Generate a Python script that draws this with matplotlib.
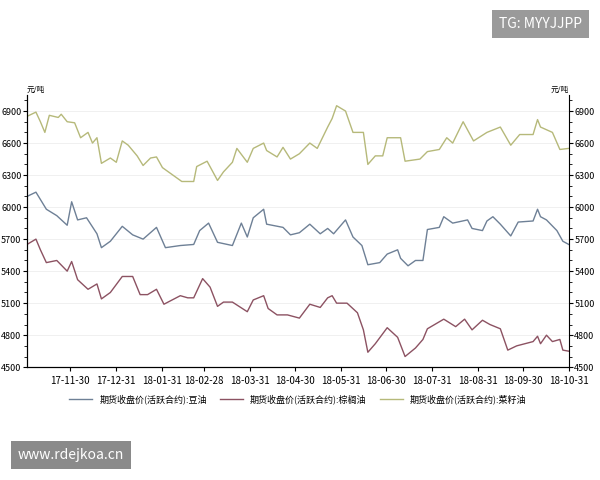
import matplotlib
matplotlib.use("Agg")
import matplotlib.pyplot as plt
import matplotlib.dates as mdates
import pandas as pd
from matplotlib.ticker import MultipleLocator

plt.rcParams['font.family'] = ['Noto Sans CJK SC', 'DejaVu Sans']

start = pd.Timestamp("2017-11-01")
# day offsets from 2017-11-01 and values
soy_d = [0,6,13,20,27,30,34,40,47,50,56,64,71,78,87,93,103,112,116,122,128,138,144,148,152,159,161,172,177,183,190,197,202,206,214,219,225,229,237,242,249,251,256,261,266,269,277,280,286,296,299,306,309,313,318,325,330,340,343,345,349,356,360,364]
soy_v = [6100,6140,5980,5920,5830,6050,5880,5900,5750,5620,5680,5820,5740,5700,5810,5620,5640,5650,5780,5850,5670,5640,5850,5720,5900,5980,5840,5810,5740,5760,5840,5750,5800,5750,5880,5720,5640,5460,5480,5560,5600,5520,5450,5500,5500,5790,5810,5910,5850,5880,5800,5780,5870,5910,5840,5730,5860,5870,5980,5910,5880,5780,5680,5650]
palm_d = [0,6,9,13,20,27,30,34,41,47,50,56,64,71,76,81,87,92,103,108,112,118,123,128,132,138,148,152,159,162,168,175,183,190,197,202,205,208,215,222,226,229,234,242,249,254,261,266,269,280,288,294,299,306,311,318,323,329,340,343,345,349,353,358,360,364]
palm_v = [5650,5700,5600,5480,5500,5400,5490,5320,5230,5280,5140,5200,5350,5350,5180,5180,5230,5090,5170,5150,5150,5330,5250,5070,5110,5110,5020,5130,5170,5050,4990,4990,4960,5090,5060,5150,5170,5100,5100,5010,4850,4640,4720,4870,4780,4600,4680,4760,4860,4950,4880,4950,4850,4940,4900,4860,4660,4700,4740,4790,4720,4800,4740,4760,4660,4650]
rape_d = [0,6,9,12,15,21,23,27,32,36,41,44,47,50,56,60,64,68,74,78,83,87,91,98,104,112,114,121,128,132,138,141,148,152,159,161,168,172,177,183,190,195,202,205,208,214,219,226,229,234,239,242,251,254,264,269,277,282,286,293,300,309,318,325,331,340,343,345,353,358,364]
rape_v = [6850,6890,6800,6700,6860,6840,6870,6800,6790,6650,6700,6600,6650,6410,6460,6420,6620,6580,6480,6390,6460,6470,6370,6300,6240,6240,6380,6430,6250,6330,6420,6550,6420,6550,6600,6530,6470,6560,6450,6500,6600,6550,6750,6830,6950,6900,6700,6700,6400,6480,6480,6650,6650,6430,6450,6520,6540,6650,6600,6800,6620,6700,6750,6580,6680,6680,6820,6750,6700,6540,6550]
labels = ["期货收盘价(活跃合约):豆油", "期货收盘价(活跃合约):棕榈油", "期货收盘价(活跃合约):菜籽油"]
colors = ["#6e8096", "#8c5262", "#b6b97a"]
month_ticks = ["2017-11-30","2017-12-31","2018-01-31","2018-02-28","2018-03-31","2018-04-30","2018-05-31","2018-06-30","2018-07-31","2018-08-31","2018-09-30","2018-10-31"]

fig = plt.figure(figsize=(6, 4.8), dpi=100)
ax = fig.add_axes([0.045, 0.235, 0.903, 0.567])
for d, v, lab, c in zip([soy_d, palm_d, rape_d], [soy_v, palm_v, rape_v], labels, colors):
    dates = [start + pd.Timedelta(days=x) for x in d]
    ax.plot(dates, v, color=c, lw=1.0, label=lab)

ax.set_xlim(start, pd.Timestamp("2018-10-31"))
ax.set_ylim(4500, 7050)
ax.yaxis.set_major_locator(MultipleLocator(300))
ax.yaxis.set_minor_locator(MultipleLocator(100))
ax.set_xticks([pd.Timestamp(t) for t in month_ticks])
ax.xaxis.set_major_formatter(mdates.DateFormatter("%y-%m-%d"))
ax.tick_params(axis='x', labelsize=7, length=3)
ax.tick_params(axis='y', labelsize=6.5, length=3, pad=1)
ax.tick_params(which='minor', length=2)
ax.grid(axis='y', color='#eeeeee', lw=0.6)
ax.spines['top'].set_visible(False)
ax.spines['right'].set_visible(False)
ax2 = ax.twinx()
ax2.set_ylim(ax.get_ylim())
ax2.yaxis.set_major_locator(MultipleLocator(300))
ax2.yaxis.set_minor_locator(MultipleLocator(100))
ax2.tick_params(axis='y', labelsize=6.5, length=3, pad=1)
ax2.tick_params(which='minor', length=2)
ax2.spines['top'].set_visible(False)
ax.text(0.0, 1.005, "元/吨", transform=ax.transAxes, fontsize=5.5, va='bottom', ha='left')
ax.text(1.0, 1.005, "元/吨", transform=ax.transAxes, fontsize=5.5, va='bottom', ha='right')
ax.legend(loc='upper center', bbox_to_anchor=(0.5, -0.07), ncol=3, frameon=False, fontsize=6.5,
          handlelength=2.5, columnspacing=1.5)

fig.text(0.97, 0.95, "TG: MYYJJPP", ha='right', va='center', fontsize=10, color='white',
         bbox=dict(boxstyle='square,pad=0.5', fc='#9a9a9a', ec='none'))
fig.text(0.03, 0.052, "www.rdejkoa.cn", ha='left', va='center', fontsize=10, color='white',
         bbox=dict(boxstyle='square,pad=0.5', fc='#8a8a8a', ec='none'))
fig.savefig("out.png", dpi=100)
